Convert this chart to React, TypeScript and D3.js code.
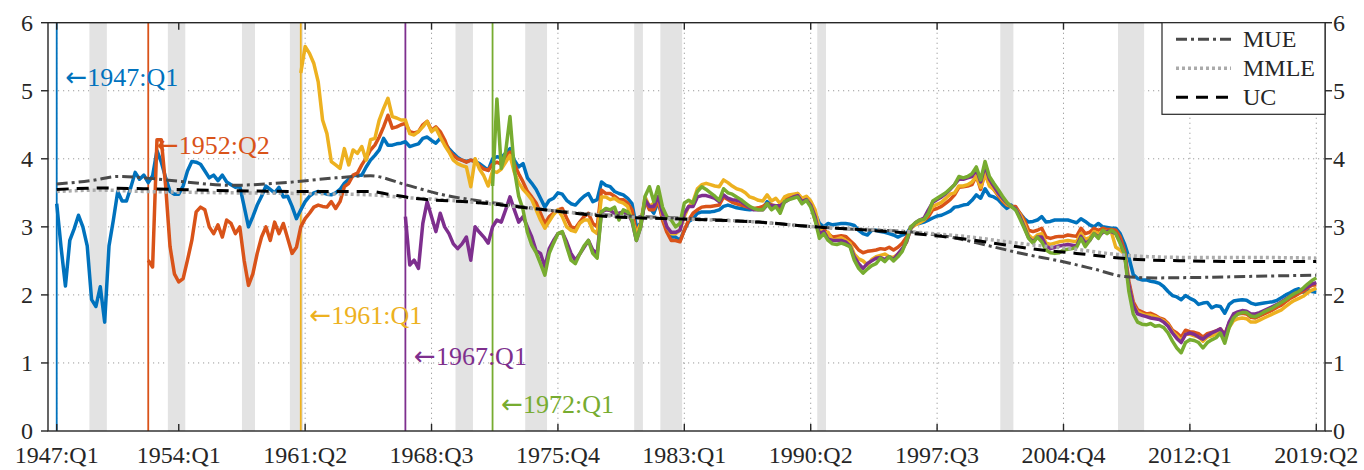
import React from 'react';
import * as d3 from 'd3';

const W = 1364;
const H = 470;

// ---------- data ----------
const xTickLabels = ["1947:Q1", "1954:Q1", "1961:Q2", "1968:Q3", "1975:Q4", "1983:Q1", "1990:Q2", "1997:Q3", "2004:Q4", "2012:Q1", "2019:Q2"];
const yTicks = [0, 1, 2, 3, 4, 5, 6];
const yGrid = [1, 2, 3, 4, 5];

const recessions: [string, string][] = [
  ["1948:Q4", "1949:Q4"], ["1953:Q2", "1954:Q2"], ["1957:Q3", "1958:Q2"], ["1960:Q2", "1961:Q1"],
  ["1969:Q4", "1970:Q4"], ["1973:Q4", "1975:Q1"], ["1980:Q1", "1980:Q3"], ["1981:Q3", "1982:Q4"],
  ["1990:Q3", "1991:Q1"], ["2001:Q1", "2001:Q4"], ["2007:Q4", "2009:Q2"],
];

const blueStart = "1947:Q1";
const blueValues = [
  3.34, 2.7, 2.13, 2.8, 2.97, 3.17, 3.0, 2.72, 1.93, 1.83,
  2.12, 1.6, 2.72, 3.1, 3.52, 3.38, 3.38, 3.58, 3.8, 3.7,
  3.76, 3.65, 3.75, 4.12, 3.95, 3.72, 3.52, 3.48, 3.48, 3.6,
  3.82, 3.96, 3.95, 3.92, 3.82, 3.72, 3.76, 3.68, 3.76, 3.66,
  3.62, 3.58, 3.6, 3.3, 3.0, 3.15, 3.32, 3.45, 3.6, 3.55,
  3.5, 3.58, 3.44, 3.45, 3.3, 3.12, 3.25, 3.37, 3.45, 3.5,
  3.52, 3.5, 3.48, 3.47, 3.5, 3.55, 3.64, 3.7, 3.75, 3.76,
  3.76, 3.88, 3.98, 4.05, 4.13, 4.3, 4.2, 4.2, 4.22, 4.23,
  4.25, 4.18, 4.2, 4.22, 4.3, 4.32, 4.27, 4.23, 4.3, 4.23,
  4.15, 4.08, 4.02, 3.98, 3.96, 3.98, 3.96, 3.93, 3.88, 3.83,
  4.0, 4.03, 4.02, 4.08, 4.15, 3.98, 3.88, 3.93, 3.72, 3.64,
  3.55, 3.42, 3.29, 3.39, 3.42, 3.5, 3.48, 3.39, 3.34, 3.32,
  3.39, 3.45, 3.49, 3.37, 3.4, 3.66, 3.61, 3.59, 3.52, 3.49,
  3.47, 3.42, 3.34, 3.0, 3.05, 3.39, 3.29, 3.2, 3.37, 3.15,
  2.95, 2.85, 2.85, 2.8, 2.95, 3.08, 3.12, 3.2, 3.22, 3.22,
  3.22, 3.23, 3.25, 3.3, 3.32, 3.3, 3.28, 3.27, 3.26, 3.25,
  3.26, 3.27, 3.27, 3.37, 3.32, 3.3, 3.28, 3.39, 3.42, 3.45,
  3.47, 3.39, 3.41, 3.33, 3.2, 3.05, 3.0, 3.05, 3.03, 3.04,
  3.05, 3.05, 3.04, 3.02, 2.95, 2.9, 2.88, 2.95, 2.95, 2.93,
  2.92, 2.9, 2.88, 2.85, 2.88, 2.9, 3.0, 3.04, 3.05, 3.07,
  3.1, 3.13, 3.16, 3.17, 3.2, 3.23, 3.29, 3.3, 3.32, 3.33,
  3.39, 3.47, 3.42, 3.56, 3.46, 3.44, 3.4, 3.33, 3.27, 3.32,
  3.25, 3.2, 3.12, 3.07, 3.08, 3.1, 3.15, 3.07, 3.08, 3.1,
  3.1, 3.1, 3.1, 3.08, 3.06, 3.12, 3.08, 3.03, 3.0, 3.05,
  3.0, 2.99, 2.98, 2.98, 2.9, 2.75, 2.55, 2.3, 2.24, 2.22,
  2.22, 2.2, 2.19, 2.17, 2.12, 2.05, 1.99, 1.97, 1.93, 1.99,
  1.95, 1.92, 1.86, 1.88, 1.89, 1.81, 1.84, 1.83, 1.73, 1.86,
  1.91, 1.92, 1.93, 1.92, 1.88, 1.86, 1.87, 1.88, 1.89, 1.9,
  1.92, 1.96, 2.0, 2.03, 2.07, 2.09, 2.04, 2.06, 2.05, 2.04,
];

const redStart = "1952:Q2";
const redValues = [
  2.51, 2.41, 4.28, 4.28, 3.59, 2.71, 2.31, 2.19, 2.24,
  2.51, 2.8, 3.22, 3.29, 3.25, 3.0, 2.9, 3.03, 2.85, 3.1,
  3.05, 2.9, 3.0, 2.51, 2.14, 2.31, 2.61, 2.85, 3.0, 2.8,
  3.07, 2.9, 3.05, 2.83, 2.61, 2.7, 3.0, 3.12, 3.2, 3.29,
  3.32, 3.3, 3.29, 3.37, 3.27, 3.37, 3.59, 3.64, 3.76, 3.79,
  3.91, 4.01, 4.13, 4.2, 4.32, 4.47, 4.64, 4.45, 4.47, 4.5,
  4.52, 4.4, 4.38, 4.4, 4.5, 4.55, 4.42, 4.47, 4.4, 4.28,
  4.12, 4.05, 4.0, 3.98, 3.95, 3.98, 3.96, 3.9, 3.85, 3.83,
  3.92, 3.95, 3.92, 4.03, 4.1, 3.92, 3.78, 3.66, 3.52, 3.44,
  3.35, 3.2, 3.05, 3.15, 3.2, 3.25, 3.27, 3.13, 3.0, 2.98,
  3.07, 3.15, 3.2, 3.05, 3.0, 3.54, 3.49, 3.49, 3.45, 3.4,
  3.4, 3.35, 3.25, 2.9, 3.05, 3.39, 3.25, 3.25, 3.39, 3.1,
  2.92, 2.8, 2.8, 2.78, 2.95, 3.1, 3.2, 3.25, 3.29, 3.3,
  3.3, 3.31, 3.32, 3.44, 3.4, 3.36, 3.34, 3.32, 3.3, 3.28,
  3.27, 3.28, 3.3, 3.34, 3.32, 3.31, 3.29, 3.39, 3.44, 3.46,
  3.49, 3.39, 3.44, 3.34, 3.1, 2.93, 2.96, 2.9, 2.85, 2.86,
  2.87, 2.86, 2.8, 2.74, 2.66, 2.62, 2.64, 2.65, 2.66, 2.68,
  2.67, 2.7, 2.66, 2.7, 2.76, 2.85, 3.0, 3.04, 3.07, 3.1,
  3.15, 3.25, 3.27, 3.3, 3.35, 3.4, 3.47, 3.58, 3.59, 3.6,
  3.62, 3.75, 3.55, 3.8, 3.62, 3.55, 3.46, 3.38, 3.32, 3.3,
  3.3, 3.2, 3.1, 2.95, 2.93, 2.95, 2.98, 2.85, 2.83, 2.85,
  2.86, 2.86, 2.88, 2.87, 2.86, 2.98, 2.9, 2.92, 2.98, 2.95,
  2.98, 2.96, 2.96, 2.95, 2.85, 2.65, 2.2, 1.9, 1.78, 1.75,
  1.72, 1.73, 1.7, 1.66, 1.64, 1.58, 1.48, 1.44, 1.38, 1.48,
  1.46, 1.45, 1.43, 1.38, 1.43, 1.45, 1.47, 1.5, 1.42, 1.58,
  1.68, 1.72, 1.73, 1.72, 1.67, 1.66, 1.69, 1.72, 1.75, 1.78,
  1.82, 1.85, 1.9, 1.95, 1.98, 2.02, 2.05, 2.1, 2.14, 2.15,
];

const yellowStart = "1961:Q1";
const yellowValues = [
  5.26, 5.65, 5.55, 5.4,
  5.13, 4.57, 4.37, 3.96, 3.91, 3.86, 4.15, 3.91, 4.13, 4.08,
  4.18, 3.98, 4.28, 4.3, 4.57, 4.74, 4.89, 4.62, 4.6, 4.57,
  4.57, 4.37, 4.35, 4.4, 4.47, 4.55, 4.4, 4.45, 4.32, 4.2,
  4.1, 3.98, 3.93, 3.9, 3.88, 3.59, 4.0, 3.85, 3.75, 3.6,
  3.82, 3.8, 3.85, 3.95, 4.05, 3.8, 3.65, 3.55, 3.48, 3.4,
  3.25, 3.1, 2.98, 3.08, 3.18, 3.25, 3.15, 3.0, 2.95, 2.93,
  3.05, 3.1, 3.1, 2.95, 2.9, 3.44, 3.44, 3.4, 3.42, 3.37,
  3.35, 3.3, 3.1, 2.9, 3.05, 3.44, 3.3, 3.35, 3.44, 3.15,
  3.0, 2.9, 2.9, 2.95, 3.15, 3.3, 3.37, 3.56, 3.62, 3.64,
  3.62, 3.6, 3.59, 3.69, 3.65, 3.6, 3.56, 3.54, 3.5, 3.44,
  3.42, 3.39, 3.38, 3.47, 3.38, 3.42, 3.34, 3.44, 3.47, 3.48,
  3.49, 3.42, 3.45, 3.38, 3.25, 2.98, 2.9, 2.92, 2.8, 2.82,
  2.84, 2.8, 2.76, 2.6, 2.53, 2.5, 2.44, 2.52, 2.56, 2.58,
  2.6, 2.56, 2.55, 2.6, 2.66, 2.78, 2.98, 3.03, 3.06, 3.1,
  3.2, 3.3, 3.33, 3.36, 3.42, 3.48, 3.5, 3.6, 3.6, 3.62,
  3.66, 3.74, 3.58, 3.78, 3.6, 3.55, 3.48, 3.4, 3.33, 3.3,
  3.27, 3.18, 3.05, 2.88, 2.82, 2.88, 2.9, 2.76, 2.74, 2.76,
  2.78, 2.79, 2.8, 2.79, 2.78, 2.9, 2.82, 2.84, 2.93, 2.9,
  2.93, 2.93, 2.92, 2.7, 2.66, 2.6, 2.15, 1.85, 1.75, 1.72,
  1.7, 1.7, 1.68, 1.65, 1.62, 1.56, 1.46, 1.4, 1.33, 1.42,
  1.42, 1.4, 1.38, 1.32, 1.38, 1.4, 1.42, 1.45, 1.36, 1.52,
  1.62, 1.65, 1.66, 1.65, 1.6, 1.6, 1.63, 1.66, 1.69, 1.72,
  1.75, 1.78, 1.83, 1.88, 1.92, 1.95, 1.98, 2.03, 2.07, 2.1,
];

const purpleStart = "1967:Q1";
const purpleValues = [
  3.15, 2.44, 2.51, 2.39, 3.05, 3.37, 3.15, 2.93, 3.2, 3.0,
  2.9, 2.75, 2.68, 2.75, 2.85, 2.51, 3.0, 2.92, 2.85, 2.76,
  3.0, 3.1, 3.07, 3.25, 3.44, 3.25, 3.07, 3.15, 3.0, 2.85,
  2.65, 2.61, 2.41, 2.68, 2.8, 2.9, 2.92, 2.78, 2.61, 2.51,
  2.6, 2.7, 2.8, 2.66, 2.61, 3.22, 3.25, 3.24, 3.2, 3.2,
  3.22, 3.2, 3.08, 2.8, 3.0, 3.4, 3.3, 3.3, 3.45, 3.2,
  3.0, 2.92, 2.92, 2.95, 3.2, 3.3, 3.3, 3.44, 3.46, 3.46,
  3.44, 3.42, 3.37, 3.47, 3.42, 3.4, 3.39, 3.37, 3.33, 3.28,
  3.25, 3.25, 3.25, 3.32, 3.31, 3.31, 3.31, 3.36, 3.4, 3.44,
  3.46, 3.37, 3.4, 3.32, 3.15, 2.9, 2.93, 2.82, 2.8, 2.8,
  2.8, 2.78, 2.72, 2.56, 2.46, 2.39, 2.46, 2.5, 2.54, 2.55,
  2.52, 2.56, 2.52, 2.6, 2.68, 2.78, 2.98, 3.06, 3.1, 3.13,
  3.25, 3.36, 3.4, 3.44, 3.49, 3.55, 3.62, 3.7, 3.7, 3.72,
  3.74, 3.85, 3.66, 3.9, 3.7, 3.6, 3.5, 3.42, 3.35, 3.3,
  3.27, 3.15, 3.0, 2.84, 2.78, 2.85, 2.85, 2.72, 2.68, 2.7,
  2.72, 2.73, 2.74, 2.73, 2.72, 2.86, 2.76, 2.8, 2.9, 2.85,
  2.92, 2.93, 2.93, 2.9, 2.78, 2.6, 2.15, 1.85, 1.72, 1.7,
  1.68, 1.66, 1.65, 1.64, 1.6, 1.54, 1.44, 1.36, 1.3, 1.42,
  1.44, 1.42, 1.38, 1.35, 1.4, 1.44, 1.47, 1.5, 1.4, 1.6,
  1.72, 1.75, 1.77, 1.76, 1.72, 1.72, 1.74, 1.77, 1.8, 1.83,
  1.86, 1.9, 1.94, 1.98, 2.02, 2.05, 2.08, 2.12, 2.16, 2.18,
];

const greenStart = "1972:Q1";
const greenValues = [
  3.6, 4.88, 3.86, 4.1, 4.62, 3.84, 3.45, 3.25, 2.92, 2.73,
  2.62, 2.46, 2.29, 2.61, 2.76, 2.9, 2.93, 2.71, 2.51, 2.46,
  2.6, 2.72, 2.8, 2.61, 2.54, 3.22, 3.27, 3.25, 3.29, 3.1,
  3.25, 3.22, 3.1, 2.8, 3.0, 3.45, 3.59, 3.37, 3.59, 3.29,
  3.15, 3.1, 3.0, 3.05, 3.35, 3.39, 3.35, 3.52, 3.59, 3.55,
  3.5, 3.45, 3.39, 3.56, 3.5, 3.48, 3.44, 3.4, 3.35, 3.3,
  3.27, 3.25, 3.25, 3.34, 3.25, 3.3, 3.2, 3.37, 3.4, 3.42,
  3.44, 3.34, 3.39, 3.29, 3.1, 2.83, 2.9, 2.8, 2.75, 2.74,
  2.76, 2.74, 2.71, 2.51, 2.39, 2.32, 2.38, 2.43, 2.46, 2.54,
  2.49, 2.56, 2.5, 2.56, 2.64, 2.8, 3.0, 3.06, 3.1, 3.11,
  3.2, 3.38, 3.42, 3.46, 3.5, 3.56, 3.62, 3.74, 3.72, 3.74,
  3.78, 3.88, 3.69, 3.96, 3.74, 3.64, 3.55, 3.45, 3.36, 3.3,
  3.25, 3.12, 2.98, 2.83, 2.76, 2.85, 2.78, 2.66, 2.62, 2.61,
  2.62, 2.66, 2.67, 2.68, 2.7, 2.83, 2.71, 2.8, 2.9, 2.83,
  2.95, 2.9, 2.95, 2.9, 2.76, 2.6, 2.05, 1.72, 1.6, 1.57,
  1.56, 1.58, 1.54, 1.55, 1.52, 1.44, 1.32, 1.22, 1.15, 1.3,
  1.34, 1.33, 1.3, 1.22, 1.3, 1.34, 1.37, 1.44, 1.29, 1.52,
  1.66, 1.72, 1.74, 1.74, 1.69, 1.68, 1.71, 1.75, 1.78, 1.81,
  1.85, 1.89, 1.93, 1.98, 2.02, 2.05, 2.1, 2.16, 2.21, 2.25,
];

// smooth estimates: quarters since 1947:Q1 and values
const mueQuarter = [0, 8, 14, 20, 28, 40, 48, 56, 64, 72, 80, 88, 96, 104, 112, 120, 134, 146, 161, 174, 184, 195, 205, 214, 222, 230, 238, 245, 252, 265, 280, 289];
const mueValue = [3.63, 3.68, 3.74, 3.72, 3.67, 3.61, 3.63, 3.67, 3.72, 3.75, 3.62, 3.48, 3.39, 3.32, 3.25, 3.2, 3.15, 3.12, 3.07, 3.0, 2.96, 2.93, 2.85, 2.72, 2.6, 2.5, 2.38, 2.27, 2.25, 2.26, 2.28, 2.29];

const mmleQuarter = [0, 10, 20, 40, 56, 72, 80, 88, 96, 112, 127, 146, 161, 174, 184, 195, 211, 218, 226, 234, 241, 248, 260, 275, 289];
const mmleValue = [3.52, 3.54, 3.52, 3.5, 3.49, 3.47, 3.43, 3.4, 3.36, 3.25, 3.16, 3.11, 3.07, 3.0, 2.97, 2.93, 2.84, 2.78, 2.72, 2.67, 2.61, 2.57, 2.55, 2.55, 2.54];

const ucQuarter = [0, 10, 20, 40, 60, 72, 76, 82, 96, 112, 127, 146, 161, 174, 184, 195, 203, 211, 218, 226, 234, 241, 248, 260, 275, 289];
const ucValue = [3.55, 3.57, 3.56, 3.53, 3.52, 3.52, 3.48, 3.42, 3.36, 3.25, 3.15, 3.11, 3.07, 3.0, 2.96, 2.91, 2.86, 2.8, 2.73, 2.66, 2.61, 2.56, 2.52, 2.5, 2.49, 2.49];

const labelValue = [5.2, 4.2, 1.7, 1.1, 0.4];

// ---------- helpers ----------
const q = (s: string) => {
  const [y, qq] = s.split(":Q");
  return (+y - 1947) * 4 + (+qq - 1);
};

const FONT = '"Liberation Serif", "Times New Roman", Times, serif';
const ARROW_FONT = '"DejaVu Sans", sans-serif';
const AX = "#262626";

const series = [
  { name: "1947:Q1", start: blueStart, values: blueValues, color: "#0072BD" },
  { name: "1952:Q2", start: redStart, values: redValues, color: "#D95319" },
  { name: "1961:Q1", start: yellowStart, values: yellowValues, color: "#EDB120" },
  { name: "1967:Q1", start: purpleStart, values: purpleValues, color: "#7E2F8E" },
  { name: "1972:Q1", start: greenStart, values: greenValues, color: "#77AC30" },
];

const smooth = [
  { name: "MUE", qs: mueQuarter, vs: mueValue, color: "#4a4a4a", dash: "11,4,3,4", width: 3 },
  { name: "MMLE", qs: mmleQuarter, vs: mmleValue, color: "#ababab", dash: "3,3", width: 3.5 },
  { name: "UC", qs: ucQuarter, vs: ucValue, color: "#000000", dash: "12,8", width: 3 },
];

export default function App() {
  const left = 48, right = 1325, top = 22.7, bottom = 431;
  const x = d3.scaleLinear().domain([-2, 291]).range([left, right]);
  const y = d3.scaleLinear().domain([0, 6]).range([bottom, top]);

  const line = d3.line<[number, number]>().x(d => x(d[0])).y(d => y(d[1]));
  const smoothLine = d3.line<[number, number]>().x(d => x(d[0])).y(d => y(d[1])).curve(d3.curveMonotoneX);

  const legX = 1162, legY = top, legW = right - 1162, legH = 114.3 - top;
  const rows = [39.3, 68.3, 97.3];

  return (
    <svg width={W} height={H} style={{ position: 'absolute', left: 0, top: 0, background: '#fff', fontFamily: FONT }}>
      <rect x={0} y={0} width={W} height={H} fill="#fff" />
      {/* grid */}
      {yGrid.map(v => (
        <line key={'gy' + v} x1={left} x2={right} y1={y(v)} y2={y(v)} stroke="#9a9a9a" strokeWidth={1} strokeDasharray="1.2,3.8" />
      ))}
      {xTickLabels.map(t => (
        <line key={'gx' + t} x1={x(q(t))} x2={x(q(t))} y1={top} y2={bottom} stroke="#9a9a9a" strokeWidth={1} strokeDasharray="1.2,3.8" />
      ))}
      {/* recessions */}
      {recessions.map(([a, b]) => (
        <rect key={a} x={x(q(a) + 0.5)} y={top} width={x(q(b) + 0.5) - x(q(a) + 0.5)} height={bottom - top} fill="#e3e3e3" />
      ))}
      {/* start lines */}
      {series.map(s => (
        <line key={'v' + s.name} x1={x(q(s.start))} x2={x(q(s.start))} y1={top} y2={bottom} stroke={s.color} strokeWidth={1.8} />
      ))}
      {/* series */}
      {series.map(s => {
        const st = q(s.start);
        const pts = s.values.map((v, k) => [st + k, v] as [number, number]);
        return <path key={'s' + s.name} d={line(pts) || ''} fill="none" stroke={s.color} strokeWidth={3.5} strokeLinejoin="round" />;
      })}
      {/* smooth estimates */}
      {smooth.map(s => {
        const pts = s.qs.map((qq, k) => [qq, s.vs[k]] as [number, number]);
        return <path key={'m' + s.name} d={smoothLine(pts) || ''} fill="none" stroke={s.color} strokeWidth={s.width} strokeDasharray={s.dash} />;
      })}
      {/* annotations */}
      {series.map((s, k) => (
        <text key={'t' + s.name} x={x(q(s.start) + 2)} y={y(labelValue[k])} fill={s.color} fontSize={26} dominantBaseline="central">
          <tspan style={{ fontFamily: ARROW_FONT }} fontSize={26}>{'\u2190'}</tspan>
          <tspan>{s.name}</tspan>
        </text>
      ))}
      {/* axes box */}
      <rect x={left} y={top} width={right - left} height={bottom - top} fill="none" stroke={AX} strokeWidth={1.4} />
      {yTicks.map(v => (
        <g key={'yt' + v}>
          <line x1={left - 7} x2={left} y1={y(v)} y2={y(v)} stroke={AX} strokeWidth={1.4} />
          <line x1={right} x2={right + 7} y1={y(v)} y2={y(v)} stroke={AX} strokeWidth={1.4} />
          <text x={33} y={y(v)} textAnchor="end" dominantBaseline="central" fontSize={24} fill={AX}>{v}</text>
          <text x={1333} y={y(v)} textAnchor="start" dominantBaseline="central" fontSize={24} fill={AX}>{v}</text>
        </g>
      ))}
      {xTickLabels.map(t => (
        <g key={'xt' + t}>
          <line x1={x(q(t))} x2={x(q(t))} y1={bottom} y2={bottom - 7} stroke={AX} strokeWidth={1.4} />
          <line x1={x(q(t))} x2={x(q(t))} y1={top} y2={top + 7} stroke={AX} strokeWidth={1.4} />
          <text x={x(q(t))} y={463} textAnchor="middle" fontSize={24} fill={AX}>{t}</text>
        </g>
      ))}
      {/* legend */}
      <rect x={legX} y={legY} width={legW} height={legH} fill="#fff" stroke={AX} strokeWidth={1.2} />
      {smooth.map((s, k) => (
        <g key={'l' + s.name}>
          <line x1={1176} x2={1231} y1={rows[k]} y2={rows[k]} stroke={s.color} strokeWidth={s.width} strokeDasharray={s.dash} />
          <text x={1243} y={rows[k]} dominantBaseline="central" fontSize={24} fill={AX}>{s.name}</text>
        </g>
      ))}
    </svg>
  );
}
